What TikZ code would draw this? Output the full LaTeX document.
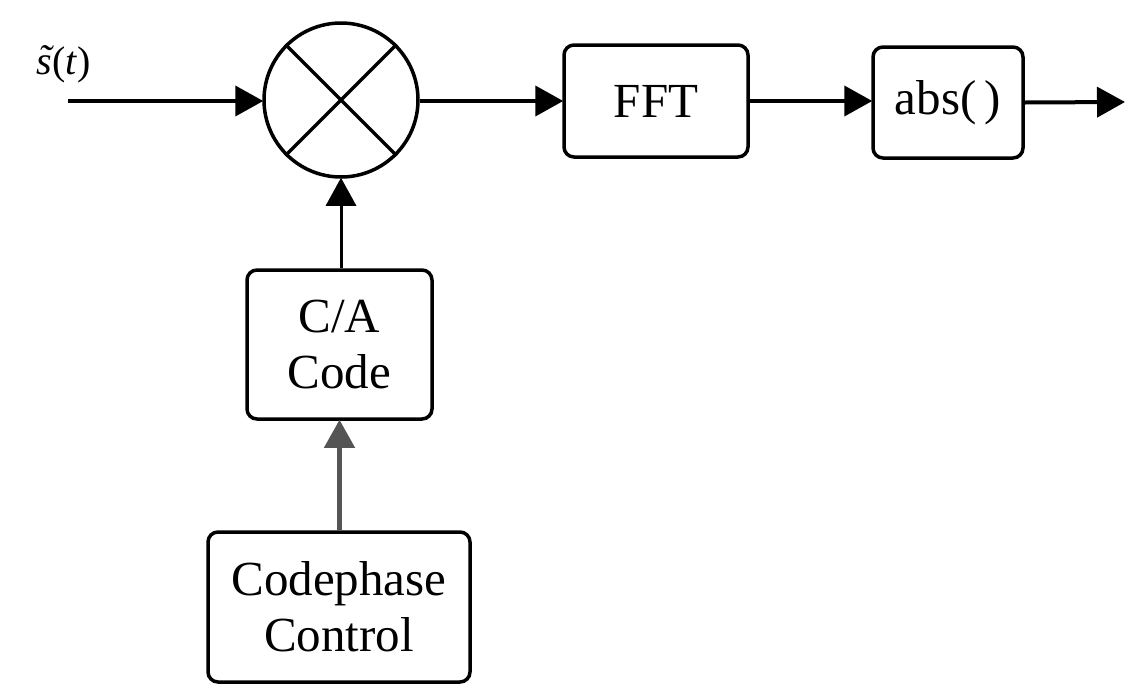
\documentclass[tikz,border=0pt]{standalone}
\usepackage{fontspec}
\setmainfont{Liberation Serif}
\usetikzlibrary{arrows.meta}
\definecolor{grayline}{HTML}{555555}
\newcommand{\tildes}{\makebox[0pt][l]{\hspace{0.04em}\raisebox{0.04em}{^^^^02dc}}s}
\tikzset{
  blockbox/.style={draw=black, line width=3.5pt, rounded corners=10pt, inner sep=0pt, align=center,
    font=\fontsize{49}{56}\selectfont},
  conn/.style={line width=4pt, -{Triangle[length=28pt,width=30pt]}, shorten >=-1pt},
}
\begin{document}
\begin{tikzpicture}[x=1pt,y=-1pt]
\useasboundingbox (0,0) rectangle (1146,686);
% mixer
\node[draw, circle, line width=3.5pt, minimum size=154pt, inner sep=0pt] (mix) at (341,100) {};
\draw[line width=3.5pt] (mix.north west) -- (mix.south east);
\draw[line width=3.5pt] (mix.north east) -- (mix.south west);
% blocks
\node[blockbox, minimum width=184pt, minimum height=112pt] (fft) at (656,101) {FFT};
\node[blockbox, minimum width=150pt, minimum height=111pt] (abs) at (948,102.5) {abs(\,)};
\node[blockbox, minimum width=185pt, minimum height=149pt] (ca) at (339.5,344.5) {C/A\\Code};
\node[blockbox, minimum width=262pt, minimum height=150pt] (cp) at (339,607) {Codephase\\Control};
% input
\coordinate (in) at (68,101);
\coordinate (out) at (1124,102);
\node[font=\fontsize{40}{44}\selectfont] (lab) at (64,64) {\textit{\tildes}(\textit{t})};
% connectors
\draw[conn] (in) -- (mix.west |- in);
\draw[conn] (mix.east |- fft.west) -- (fft.west);
\draw[conn] (fft.east) -- (abs.west |- fft.east);
\draw[conn] (abs.east) -- (out);
\draw[conn, line width=3pt] (ca.north -| mix.south) -- (mix.south);
\draw[conn, draw=grayline, fill=grayline, line width=4.5pt] (cp.north -| ca.south) -- (ca.south);
\end{tikzpicture}
\end{document}
